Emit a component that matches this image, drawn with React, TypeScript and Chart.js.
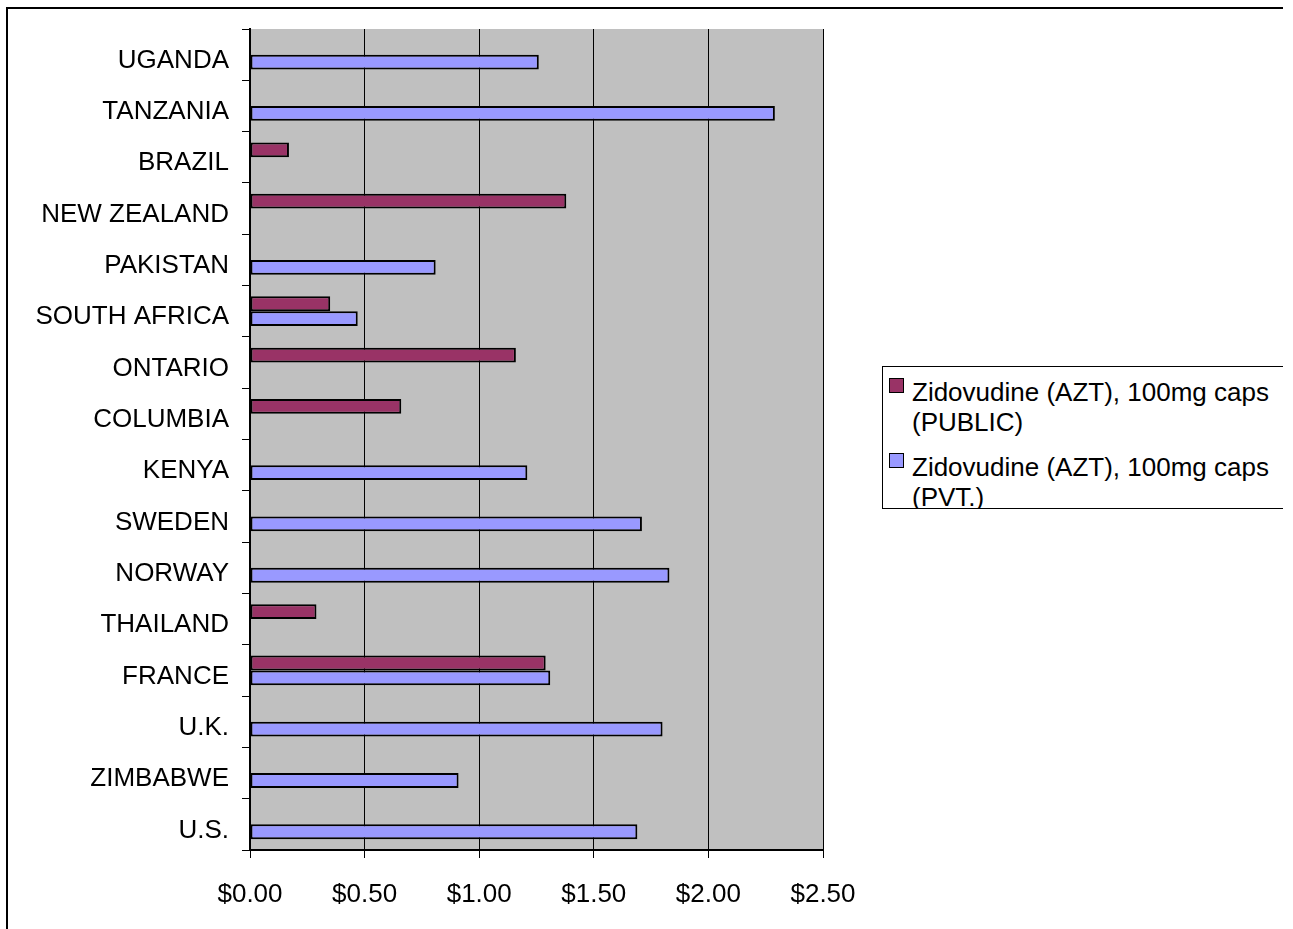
import React, { useEffect, useRef } from "react";
import { Chart, registerables } from "chart.js";

Chart.register(...registerables);

const categories = [
  "UGANDA", "TANZANIA", "BRAZIL", "NEW ZEALAND", "PAKISTAN", "SOUTH AFRICA",
  "ONTARIO", "COLUMBIA", "KENYA", "SWEDEN", "NORWAY", "THAILAND", "FRANCE",
  "U.K.", "ZIMBABWE", "U.S.",
];

const publicValues: (number | null)[] = [
  null, null, 0.17, 1.38, null, 0.35, 1.16, 0.66, null, null, null, 0.29, 1.29, null, null, null,
];

const privateValues: (number | null)[] = [
  1.26, 2.29, null, null, 0.81, 0.47, null, null, 1.21, 1.71, 1.83, null, 1.31, 1.80, 0.91, 1.69,
];

const seriesLabels = [
  "Zidovudine (AZT), 100mg caps (PUBLIC)",
  "Zidovudine (AZT), 100mg caps (PVT.)",
];
const seriesColors = ["#993366", "#9999FF"];

const xTicks = [0, 0.5, 1, 1.5, 2, 2.5];

const FONT = "'Liberation Sans', Arial, sans-serif";
const FONT_SIZE = 26;

const plotBg = {
  id: "plotBg",
  beforeDraw(chart: any) {
    const { ctx, chartArea } = chart;
    ctx.save();
    ctx.fillStyle = "#C0C0C0";
    ctx.fillRect(chartArea.left, chartArea.top, chartArea.right - chartArea.left, chartArea.bottom - chartArea.top);
    ctx.restore();
  },
};

export default function App() {
  const ref = useRef<HTMLCanvasElement | null>(null);

  useEffect(() => {
    if (!ref.current) return;
    const ds = (i: number, data: (number | null)[]) => ({
      label: seriesLabels[i],
      data,
      backgroundColor: seriesColors[i],
      borderColor: "#000000",
      borderWidth: 2,
      borderSkipped: false,
      barPercentage: 1,
      categoryPercentage: 0.58,
    });
    const chart = new Chart(ref.current, {
      type: "bar",
      data: {
        labels: categories,
        datasets: [ds(0, publicValues), ds(1, privateValues)],
      },
      options: {
        indexAxis: "y",
        responsive: false,
        animation: false,
        devicePixelRatio: 1,
        layout: { padding: { left: 0, top: 29, right: 460, bottom: 0 } },
        plugins: {
          legend: { display: false },
          tooltip: { enabled: false },
        },
        scales: {
          x: {
            min: 0,
            max: 2.5,
            afterBuildTicks: (scale: any) => {
              scale.ticks = xTicks.map((v) => ({ value: v }));
            },
            afterFit: (scale: any) => {
              scale.height = 929 - 850;
            },
            ticks: {
              color: "#000000",
              font: { family: FONT, size: FONT_SIZE },
              padding: 21,
              maxRotation: 0,
              callback: (v: any) => "$" + Number(v).toFixed(2),
            },
            grid: {
              color: "#000000",
              lineWidth: 1,
              tickLength: 8,
              drawOnChartArea: true,
            },
            border: { display: true, color: "#000000", width: 2 },
          },
          y: {
            afterFit: (scale: any) => {
              scale.width = 250;
            },
            ticks: {
              color: "#000000",
              font: { family: FONT, size: FONT_SIZE },
              padding: 13,
              labelOffset: 6,
            },
            grid: {
              color: "#000000",
              lineWidth: 1,
              tickLength: 8,
              drawOnChartArea: false,
              offset: true,
            },
            border: { display: true, color: "#000000", width: 2 },
          },
        },
      },
      plugins: [plotBg],
    });
    return () => chart.destroy();
  }, []);

  return (
    <div
      style={{
        position: "fixed",
        left: 0,
        top: 0,
        width: 1283,
        height: 929,
        overflow: "hidden",
        background: "#ffffff",
        fontFamily: FONT,
      }}
    >
      <div
        style={{
          position: "absolute",
          left: 6,
          top: 7,
          width: 1400,
          height: 1000,
          borderTop: "2px solid #000",
          borderLeft: "2px solid #000",
          boxSizing: "border-box",
        }}
      />
      <canvas
        ref={ref}
        width={1283}
        height={929}
        style={{ position: "absolute", left: 0, top: 0, width: 1283, height: 929 }}
      />
      <div
        style={{
          position: "absolute",
          left: 882,
          top: 366,
          width: 500,
          height: 143,
          border: "1.5px solid #000",
          boxSizing: "border-box",
          overflow: "hidden",
          background: "#ffffff",
        }}
      >
        {seriesLabels.map((lab, i) => (
          <div
            key={lab}
            style={{
              position: "absolute",
              left: 6,
              top: i === 0 ? 10 : 85,
              display: "flex",
              alignItems: "flex-start",
            }}
          >
            <div
              style={{
                width: 13,
                height: 13,
                marginTop: 1,
                background: seriesColors[i],
                border: "1.5px solid #000",
                flexShrink: 0,
              }}
            />
            <div
              style={{
                marginLeft: 8,
                width: 380,
                fontSize: FONT_SIZE,
                lineHeight: "30px",
                color: "#000",
                whiteSpace: "normal",
              }}
            >
              {lab}
            </div>
          </div>
        ))}
      </div>
    </div>
  );
}
